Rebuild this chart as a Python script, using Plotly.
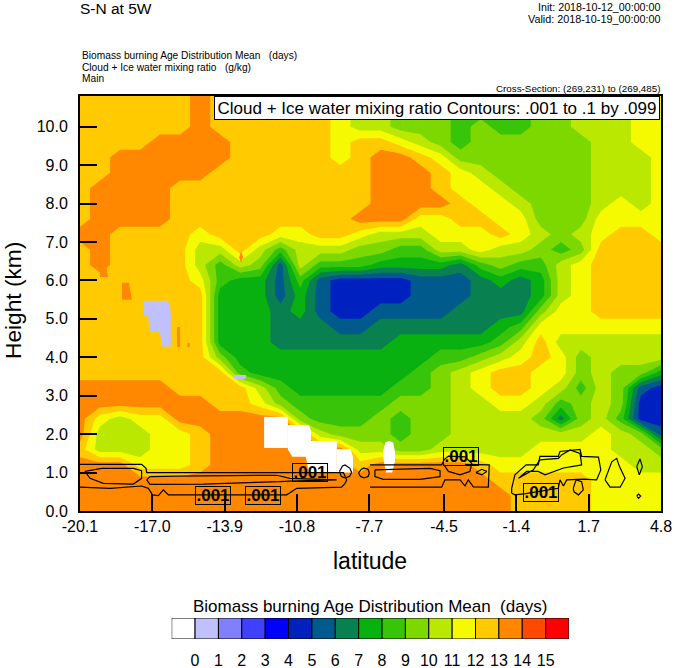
import numpy as np
import plotly.graph_objects as go

FONT = "Liberation Sans"

lat = [-20.1,-19.24,-18.38,-17.52,-16.67,-15.81,-14.95,-14.09,-13.23,-12.37,-11.51,-10.66,-9.8,-8.94,-8.08,
       -7.22,-6.36,-5.5,-4.64,-3.79,-2.93,-2.07,-1.21,-0.35,0.51,1.37,2.23,3.08,3.94,4.8]
height = [0,0.4,0.8,1.2,1.6,2.0,2.4,2.8,3.2,3.6,4.0,4.4,4.8,5.2,5.6,6.0,6.4,6.8,7.2,7.6,8.0,8.4,8.8,9.2,9.6,10.0,10.4,10.8]

# colour class (lower bound, days) of each cell, from the ground up
h00 = [13,13,13,13,13,13,13,13,13,13,13,13,13,13,13,13,13,13,13,13,13,13,12,12,12,12,11,11,11,11]
h04 = [13,13,13,13,13,13,13,13,13,13,13,13,13,13,13,13,13,13,13,13,13,13,12,12,12,12,11,11,11,11]
h08 = [13,13,13,13,13,13,13,13,13,13,13,13,13,13,13,13,13,13,13,13,13,12,12,12,12,12,11,11,11,11]
h12 = [13,13,13,11,11,11,12,13,13,13,13,13,13,13,12,13,13,13,13,13,12,11,11,11,11,11,11,11,10,10]
h16 = [12,10,10,10,11,11,12,13,13,13,13,13,13,13,10,10,9,9,10,10,10,10,10,11,11,11,11,10,10,9]
h20 = [13,10,10,10,11,11,12,13,13,13,13,13,10,9,9,9,8,9,9,10,10,10,10,10,10,10,11,10,9,5]
h24 = [13,11,10,11,11,13,13,13,13,13,13,9,8,8,8,9,8,9,9,10,10,10,10,9,6,9,10,8,4,4]
h28 = [13,13,13,13,13,13,13,12,12,11,9,8,8,8,8,8,9,9,9,10,10,11,11,10,8,9,10,9,4,4]
h32 = [13,13,13,13,13,12,12,12,12,10,8,7,7,7,7,7,8,8,9,10,11,12,12,11,10,8,10,9,5,4]
h36 = [12,12,12,12,12,12,12,12,8,7,7,7,7,7,7,7,7,8,9,10,11,12,12,11,11,9,10,9,9,7]
h40 = [12,12,12,12,12,12,12,9,7,7,7,7,7,7,7,7,7,7,8,8,9,10,11,12,11,9,10,10,10,10]
h44 = [12,12,12,12,12,12,12,7,7,7,6,6,6,6,6,6,7,7,7,7,7,8,10,12,10,10,10,10,10,10]
h48 = [12,12,12,12,12,12,12,7,7,7,6,6,6,5,5,6,6,6,6,6,6,7,8,11,11,11,11,11,11,11]
h52 = [12,12,12,12,12,12,12,7,7,7,6,7,5,4,4,5,5,5,5,6,6,6,6,9,11,11,12,12,12,12]
h56 = [12,12,12,12,12,12,12,7,7,7,5,7,5,4,4,4,4,5,5,5,6,6,6,7,10,11,12,12,12,12]
h60 = [12,12,12,12,12,12,11,8,7,7,5,8,5,4,4,4,4,5,5,5,6,7,6,7,10,11,12,12,12,12]
h64 = [12,13,12,12,12,12,10,8,10,9,5,10,8,8,8,7,7,7,7,6,8,9,8,8,10,11,12,12,12,12]
h68 = [12,13,12,12,12,12,10,10,12,10,8,10,10,10,9,9,8,8,10,10,11,10,10,9,8,9,12,12,12,12]
h72 = [13,13,12,12,12,12,11,12,12,12,11,11,12,12,11,10,10,10,11,11,11,12,11,10,9,10,11,12,12,11]
h76 = [12,13,13,13,13,12,12,12,12,12,12,12,12,12,13,13,13,11,11,12,12,11,11,9,9,9,11,11,11,11]
h80 = [12,13,13,13,13,12,12,12,12,12,12,12,12,12,12,13,13,13,13,12,11,11,10,9,9,9,10,11,10,11]
h84 = [12,13,13,13,13,12,12,12,12,12,12,12,12,12,12,13,13,13,12,11,11,10,9,9,9,9,10,10,10,11]
h88 = [12,12,13,13,13,13,13,12,12,12,12,12,12,12,12,13,13,13,12,11,10,9,9,9,9,9,10,10,10,11]
h92 = [12,12,13,13,13,13,13,13,12,12,12,12,12,11,12,13,13,12,11,9,9,9,9,9,9,9,10,10,10,11]
h96 = [12,12,12,12,13,13,13,13,12,12,12,12,12,11,12,12,11,10,9,8,9,9,9,9,9,9,10,10,11,11]
h100 = [12,12,12,12,12,12,13,12,12,12,12,12,12,11,10,10,9,9,9,8,9,8,8,9,9,10,10,10,11,11]
h104 = [12,12,12,12,12,12,13,12,12,12,12,12,12,11,10,10,9,9,9,8,8,8,8,9,9,10,10,10,11,11]
h108 = [12,12,12,12,12,12,13,12,12,12,12,12,12,12,10,10,9,9,9,8,8,9,9,9,9,10,10,10,11,11]
age_classes = [h00,h04,h08,h12,h16,h20,h24,h28,h32,h36,h40,h44,h48,h52,h56,h60,h64,h68,h72,h76,h80,h84,h88,h92,h96,h100,h104,h108]

bar_colors = ["#ffffff","#c0c0ff","#8080ff","#4040ff","#0000ff","#0020c0","#005a8c","#088050","#08b010",
              "#38c408","#7dd800","#bae800","#f5fa00","#ffcb00","#ff8800","#ff4800","#ff0000"]
bar_labels = [str(i) for i in range(16)]

# patches of missing data (white) and isolated values, (lat, km)
white_patches = [
    ([-12.21,-11.19,-11.19,-12.21],[2.45,2.45,1.64,1.64]),
    ([-11.19,-10.3,-10.2,-10.2,-11.0,-11.19],[2.24,2.24,2.1,1.41,1.41,1.6]),
    ([-10.54,-9.09,-9.09,-10.3],[1.82,1.82,1.0,1.0]),
    ([-9.09,-8.5,-8.4,-8.4,-9.09],[1.61,1.61,1.4,1.0,1.0]),
    ([-6.85,-6.68,-6.6,-6.6,-6.72,-6.98,-7.08,-7.11,-7.02],[1.82,1.78,1.55,1.3,1.0,1.0,1.3,1.55,1.78]),
]
lavender_patches = [
    ([-17.36,-16.32,-16.21,-16.21,-16.6,-16.67,-17.13,-17.17,-17.36],[5.47,5.47,5.19,4.28,4.28,4.65,4.67,5.06,5.10]),
    ([-13.5,-12.99,-12.99,-13.5],[3.54,3.54,3.44,3.44]),
]
orange_patches = [
    ([-15.94,-15.81,-15.81,-15.94],[4.79,4.79,4.27,4.27]),
    ([-15.5,-15.4,-15.4,-15.5],[4.37,4.37,4.27,4.27]),
    ([-13.28,-13.2,-13.11,-13.2],[6.6,6.76,6.6,6.46]),
    ([-18.3,-18.0,-17.87,-18.3],[5.94,5.94,5.5,5.5]),
    ([-19.24,-19.0,-18.9,-19.24],[6.48,6.48,6.09,6.09]),
]

# cloud + ice water 0.001 g/kg contour, (lat, km)
cloud_a_lat = [-20.1,-17.46,-17.27,-17.24,-8.81,-8.67,-8.74,-8.89,-10.81,-11.24,-16.31,-16.53,-16.74,-16.99,-17.17,-17.46,-18.81,-20.1]
cloud_a_h = [1.215,1.215,1.11,1.0,1.0,0.81,0.72,0.62,0.59,0.42,0.42,0.55,0.40,0.42,0.59,0.65,0.59,0.62]
cloud_b_lat = [-19.89,-19.17,-17.81,-17.46,-17.46,-17.81,-19.1,-19.67,-19.89]
cloud_b_h = [1.03,1.11,1.11,1.05,0.85,0.70,0.72,0.85,1.03]
cloud_c_lat = [-17.24,-17.1,-15.96,-11.67,-11.1,-9.1,-11.1,-11.53,-14.81,-17.1,-17.24]
cloud_c_h = [0.81,0.895,0.91,0.93,0.85,0.81,0.78,0.765,0.70,0.695,0.81]
cloud_d_lat = [-8.98,-8.85,-8.74,-8.53,-8.46,-8.55,-8.74,-8.9,-8.98]
cloud_d_h = [1.03,1.17,1.2,1.11,1.0,0.9,0.86,0.9,1.03]
cloud_e_lat = [-8.16,-8.05,-7.93,-7.75,-7.7,-7.75,-7.93,-8.08,-8.16]
cloud_e_h = [0.99,1.08,1.12,1.08,0.99,0.9,0.86,0.9,0.99]
cloud_f_lat = [-7.67,-4.6,-4.5,-4.31,-3.6,-3.31,-3.39,-3.81,-4.31,-4.5]
cloud_f_h = [1.2,1.2,1.33,1.43,1.41,1.24,1.03,0.94,1.03,1.2]
cloud_g_lat = [-7.67,-4.6,-4.46,-3.81,-3.6,-3.46,-3.24,-2.6,-2.56,-3.03,-3.6]
cloud_g_h = [0.62,0.62,0.81,0.81,0.65,0.81,0.63,0.62,1.2,1.215,1.215]
cloud_h_lat = [-7.46,-5.1,-4.67,-4.67,-5.53,-7.1,-7.46,-7.46]
cloud_h_h = [1.07,1.11,1.05,0.895,0.825,0.825,0.895,1.07]
cloud_i_lat = [-3.13,-2.88,-2.67,-2.88,-3.13]
cloud_i_h = [1.0,1.085,1.03,0.94,1.0]
cloud_j_lat = [-1.6,-1.6,-1.46,-0.98,-0.46,-0.39,0.40,0.47,1.33,1.40,2.12,2.22,2.04,1.47,0.76,0.62,0.47,0.40,-1.0,-1.46,-1.6]
cloud_j_h = [0.46,0.59,0.94,1.2,1.2,1.42,1.42,1.55,1.6,1.42,1.40,1.07,0.81,0.83,0.81,0.65,0.81,0.59,0.45,0.42,0.46]
cloud_k_lat = [-1.31,-0.96,-0.46,-0.17,0.62,1.40,1.33,0.90,0.54,0.40,-0.39,-0.67,-1.31]
cloud_k_h = [0.85,1.03,1.03,0.94,1.12,1.2,1.5,1.59,1.46,1.37,1.33,1.07,0.85]
cloud_l_lat = [1.04,1.16,1.40,1.47,1.26,1.07,1.04]
cloud_l_h = [0.59,0.81,0.76,0.55,0.42,0.5,0.59]
cloud_m_lat = [2.40,2.69,2.90,3.02,3.26,3.05,2.62,2.40]
cloud_m_h = [0.81,1.28,1.37,1.155,0.85,0.62,0.62,0.81]
cloud_n_lat = [3.76,3.9,4.0,3.87,3.76]
cloud_n_h = [1.155,1.355,1.155,0.94,1.155]
cloud_o_lat = [3.76,3.84,3.93,3.84,3.76]
cloud_o_h = [0.39,0.44,0.39,0.33,0.39]
cloud_lines = [(cloud_a_lat,cloud_a_h),(cloud_b_lat,cloud_b_h),(cloud_c_lat,cloud_c_h),(cloud_d_lat,cloud_d_h),
               (cloud_e_lat,cloud_e_h),(cloud_f_lat,cloud_f_h),(cloud_g_lat,cloud_g_h),(cloud_h_lat,cloud_h_h),
               (cloud_i_lat,cloud_i_h),(cloud_j_lat,cloud_j_h),(cloud_k_lat,cloud_k_h),(cloud_l_lat,cloud_l_h),
               (cloud_m_lat,cloud_m_h),(cloud_n_lat,cloud_n_h),(cloud_o_lat,cloud_o_h)]

label_lat = [-14.4,-12.26,-10.26,-3.77,-0.34]
label_h = [0.40,0.40,1.0,1.42,0.48]

x_ticks = [-20.1,-17.0,-13.9,-10.8,-7.7,-4.5,-1.4,1.7,4.8]
y_ticks = [0,1,2,3,4,5,6,7,8,9,10]

W, H = 674, 668
z = np.array(age_classes, dtype=float) + 0.5
n = len(bar_colors)
scale = []
for i, c in enumerate(bar_colors):
    scale += [[i/n, c], [(i+1)/n, c]]

fig = go.Figure()
fig.add_trace(go.Contour(x=lat, y=height, z=z, zmin=-1, zmax=16, colorscale=scale, showscale=False,
                         autocontour=False, contours=dict(start=0, end=15, size=1, coloring="fill", showlines=False),
                         line=dict(width=0, smoothing=0), hoverinfo="skip"))
for patches, col in [(white_patches, "#ffffff"), (lavender_patches, "#c0c0ff"), (orange_patches, "#ff8800")]:
    for px_, py_ in patches:
        fig.add_trace(go.Scatter(x=px_, y=py_, mode="lines", fill="toself", fillcolor=col,
                                 line=dict(width=0), hoverinfo="skip", showlegend=False))
for lx, ly in cloud_lines:
    fig.add_trace(go.Scatter(x=lx, y=ly, mode="lines", line=dict(color="black", width=1.2),
                             hoverinfo="skip", showlegend=False))
# horizontal colour bar
fig.add_trace(go.Bar(x=[i-0.5 for i in range(n)], y=[1]*n, width=1, marker=dict(color=bar_colors, line=dict(color="black", width=1)),
                     xaxis="x2", yaxis="y2", showlegend=False, hoverinfo="skip"))

anns = []
for a, b in zip(label_lat, label_h):
    anns.append(dict(x=a, y=b, xref="x", yref="y", text="<b>.001</b>", showarrow=False, width=34, height=17,
                     font=dict(family=FONT, size=17, color="black"), bordercolor="black", borderwidth=1, borderpad=0))

def txt(s, px, py, size, anchor="left", **kw):
    return dict(x=px/W, y=1-py/H, xref="paper", yref="paper", text=s, showarrow=False, xanchor=anchor, yanchor="middle",
                font=dict(family=FONT, size=size, color="black"), **kw)

sp = "\u00a0"
anns += [
    txt("S-N at 5W", 78, 9, 15.5),
    txt("Init: 2018-10-12_00:00:00", 662, 7, 10.7, "right"),
    txt("Valid: 2018-10-19_00:00:00", 662, 19, 10.8, "right"),
    txt(f"Biomass burning Age Distribution Mean{sp}{sp}{sp}(days)", 80, 55, 10.2, "left"),
    txt(f"Cloud + Ice water mixing ratio{sp}{sp}{sp}(g/kg)", 80, 67, 10.2, "left"),
    txt("Main", 80, 79, 10.2, "left"),
    txt("Cross-Section: (269,231) to (269,485)", 662, 88, 9.8, "right"),
    txt(f"Biomass burning Age Distribution Mean{sp}{sp}(days)", 370, 606, 17, "center"),
    txt("latitude", 370, 561, 23, "center"),
    txt("Height (km)", 13, 301, 22.7, "center", textangle=-90),
    dict(x=660/W, y=1-96/H, xref="paper", yref="paper", xanchor="right", yanchor="top", showarrow=False,
         text="Cloud + Ice water mixing ratio Contours: .001 to .1 by .099", width=444, height=22,
         font=dict(family=FONT, size=17, color="black"), bgcolor="white", bordercolor="black", borderwidth=1, borderpad=0),
]

fig.update_layout(
    width=W, height=H, margin=dict(l=0, r=0, t=0, b=0), paper_bgcolor="white", plot_bgcolor="white",
    showlegend=False, annotations=anns, font=dict(family=FONT, color="black"),
    xaxis=dict(domain=[80/W, 661/W], range=[-20.1, 4.8], tickvals=x_ticks, ticktext=[f"{v:.1f}" for v in x_ticks],
               ticks="inside", ticklen=17, tickwidth=2, tickcolor="black", tickfont=dict(size=16, family=FONT),
               showgrid=False, zeroline=False, showline=True, linecolor="black", linewidth=2, mirror=True, anchor="y", automargin=False),
    yaxis=dict(domain=[1-511/H, 1-96/H], range=[0, 10.8], tickvals=y_ticks, tickformat=".1f",
               ticks="inside", ticklen=17, tickwidth=2, tickcolor="black", tickfont=dict(size=16, family=FONT),
               ticklabelstandoff=7,
               showgrid=False, zeroline=False, showline=True, linecolor="black", linewidth=2, mirror=True, anchor="x", automargin=False),
    xaxis2=dict(domain=[171.7/W, 569/W], range=[-1, 16], tickvals=list(range(16)), ticktext=bar_labels,
                ticks="outside", ticklen=7, tickcolor="white", tickfont=dict(size=16, family=FONT),
                showgrid=False, zeroline=False, showline=False, anchor="y2", automargin=False),
    yaxis2=dict(domain=[1-639/H, 1-618/H], range=[0, 1], showticklabels=False, ticks="",
                showgrid=False, zeroline=False, anchor="x2", automargin=False),
)
fig.write_html("out.html", config=dict(displayModeBar=False),
               post_script="document.body.style.margin='0';document.body.style.overflow='hidden';")
